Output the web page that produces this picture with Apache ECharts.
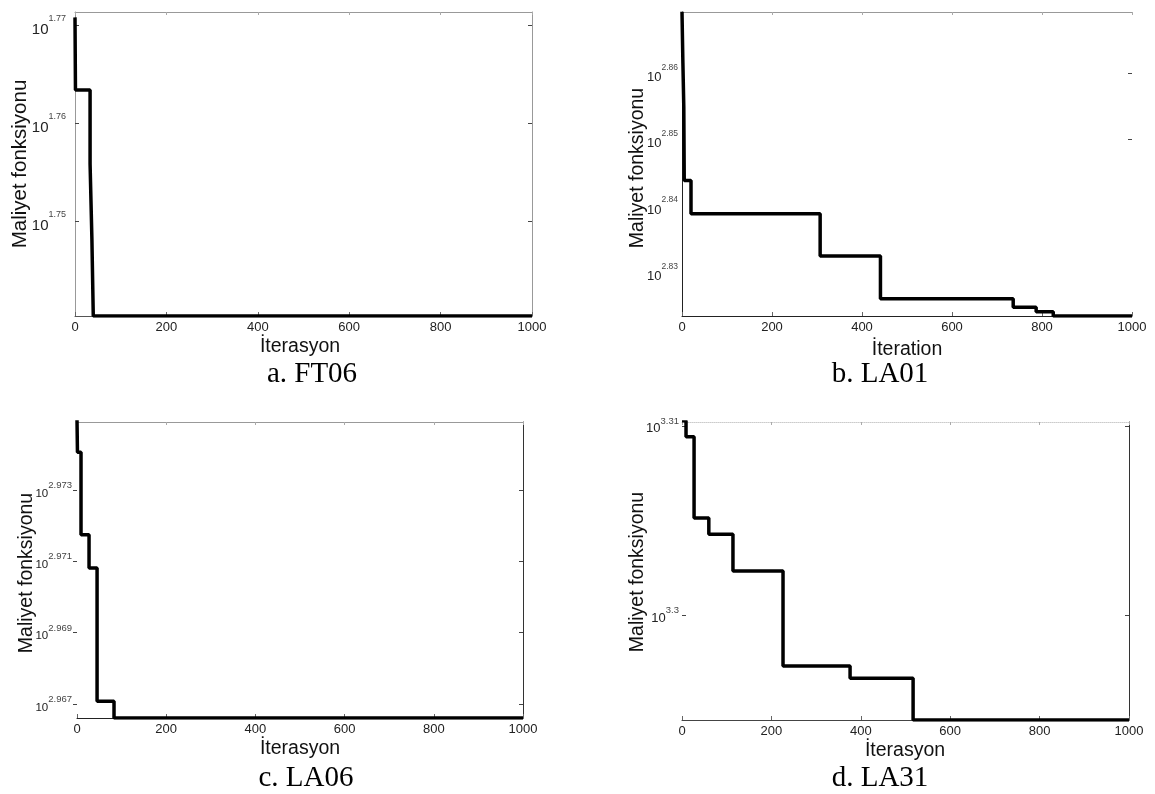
<!DOCTYPE html>
<html>
<head>
<meta charset="utf-8">
<script src="https://cdn.jsdelivr.net/npm/echarts@6/dist/echarts.min.js"></script>
<style>
  html, body { margin: 0; padding: 0; background: #fff; }
  #chart { width: 1155px; height: 794px; }
</style>
</head>
<body>
<div id="chart"></div>
<script>
// best cost per iteration (step changes only)
const iterFT06 = [0, 1, 33, 37, 40, 1000]
const costFT06 = [59, 58, 57, 56, 55, 55]
const yTicksFT06 = [1.75, 1.76, 1.77]

const iterLA01 = [0, 2, 4, 5, 20, 307, 441, 736, 787, 825, 1000]
const costLA01 = [740, 727, 716, 698, 690, 680, 670, 668, 667, 666, 666]
const yTicksLA01 = [2.83, 2.84, 2.85, 2.86]

const iterLA06 = [0, 1, 9, 27, 45, 83, 1000]
const costLA06 = [944, 942, 937, 935, 927, 926, 926]
const yTicksLA06 = [2.967, 2.969, 2.971, 2.973]

const iterLA31 = [0, 9, 27, 60, 114, 226, 376, 517, 1000]
const costLA31 = [2043, 2039, 2019, 2015, 2006, 1983, 1980, 1970, 1970]
const yTicksLA31 = [3.3, 3.31]

const xTicks = [0, 200, 400, 600, 800, 1000]

const FONT = 'Liberation Sans, Arial, sans-serif'
const SERIF = 'Liberation Serif, Times New Roman, serif'

const panels = [
  {
    iter: iterFT06, cost: costFT06, ticks: yTicksFT06,
    box: { left: 75, top: 12, width: 457, height: 304 },
    yMin: Math.log10(55), yMax: 1.7714,
    xName: 'İterasyon', caption: 'a. FT06',
    leftLine: '#999', leftTick: 'in', rightLine: '#999', bottomLine: '#555', topLine: 'solid',
    lab: [15, 9, 24], labMargin: 9, titleSize: 20.5,
    yTitle: [20, 164], xTitle: [300, 347], cap: [312, 374],
  },
  {
    iter: iterLA01, cost: costLA01, ticks: yTicksLA01,
    box: { left: 682, top: 12, width: 450, height: 304 },
    yMin: Math.log10(666), yMax: 2.8692,
    xName: 'İteration', caption: 'b. LA01',
    leftLine: '#222', leftTick: null, rightLine: null, rightTicks: [2.85, 2.86], bottomLine: '#222', topLine: 'solid',
    lab: [13, 8.5, 21], labMargin: 4, titleSize: 19.5,
    yTitle: [638, 168], xTitle: [907, 350], cap: [880, 374],
  },
  {
    iter: iterLA06, cost: costLA06, ticks: yTicksLA06,
    box: { left: 77, top: 422, width: 446, height: 296 },
    yMin: Math.log10(926), yMax: 2.9749,
    xName: 'İterasyon', caption: 'c. LA06',
    leftLine: null, leftTick: 'out', rightLine: '#333', bottomLine: '#222', topLine: 'solid',
    lab: [11.5, 9.5, 19], labMargin: 5, titleSize: 19.5,
    yTitle: [27, 573], xTitle: [300, 749], cap: [306, 778],
  },
  {
    iter: iterLA31, cost: costLA31, ticks: yTicksLA31,
    box: { left: 682, top: 422, width: 447, height: 298 },
    yMin: Math.log10(1970), yMax: 3.3102,
    xName: 'İterasyon', caption: 'd. LA31',
    leftLine: null, leftTick: 'in', rightLine: '#333', bottomLine: '#444', topLine: 'dotted',
    lab: [13, 9.5, 19], labMargin: 3, titleSize: 19.5,
    yTitle: [638, 572], xTitle: [905, 751], cap: [880, 778],
  },
]

function supLabel(v) {
  return '{b|10}{s|' + parseFloat(v.toFixed(3)) + '}'
}

const grid = []
const xAxis = []
const yAxis = []
const series = []
const graphic = []

panels.forEach((p, i) => {
  grid.push(Object.assign({ show: false }, p.box))

  xAxis.push({
    type: 'value', gridIndex: i, position: 'bottom',
    min: 0, max: 1000, interval: 200,
    axisLine: { show: true, onZero: false, lineStyle: { color: p.bottomLine, width: 1 } },
    axisTick: { show: true, inside: true, length: 4, lineStyle: { color: '#666' } },
    axisLabel: {
      fontFamily: FONT, fontSize: 13, color: '#222', margin: 5,
      customValues: xTicks,
      formatter: (v) => String(v),
    },
    splitLine: { show: false },
  })
  xAxis.push({
    type: 'value', gridIndex: i, position: 'top',
    min: 0, max: 1000, interval: 200,
    axisLine: {
      show: true, onZero: false,
      lineStyle: { color: p.topLine === 'dotted' ? '#ccc' : '#999', width: 1, type: p.topLine },
    },
    axisTick: { show: true, inside: true, length: 3, lineStyle: { color: '#aaa' } },
    axisLabel: { show: false },
    splitLine: { show: false },
  })

  yAxis.push({
    type: 'value', gridIndex: i, position: 'left',
    min: p.yMin, max: p.yMax,
    axisLine: { show: !!p.leftLine, onZero: false, lineStyle: { color: p.leftLine || '#000', width: 1 } },
    axisTick: {
      show: !!p.leftTick, inside: p.leftTick === 'in', length: 4,
      lineStyle: { color: '#444' }, customValues: p.ticks,
    },
    axisLabel: {
      margin: p.labMargin,
      customValues: p.ticks,
      formatter: supLabel,
      rich: {
        b: { fontFamily: FONT, fontSize: p.lab[0], color: '#222', lineHeight: p.lab[2], verticalAlign: 'bottom' },
        s: { fontFamily: FONT, fontSize: p.lab[1], color: '#444', lineHeight: 10, verticalAlign: 'top' },
      },
    },
    splitLine: { show: false },
  })
  yAxis.push({
    type: 'value', gridIndex: i, position: 'right',
    min: p.yMin, max: p.yMax,
    axisLine: { show: !!p.rightLine, onZero: false, lineStyle: { color: p.rightLine || '#000', width: 1 } },
    axisTick: {
      show: true, inside: true, length: 4,
      lineStyle: { color: '#444' }, customValues: p.rightTicks || p.ticks,
    },
    axisLabel: { show: false },
    splitLine: { show: false },
  })

  series.push({
    type: 'line',
    xAxisIndex: 2 * i, yAxisIndex: 2 * i,
    step: 'end',
    showSymbol: false,
    clip: true,
    lineStyle: { color: '#000', width: 3.5 },
    data: p.iter.map((x, k) => [x, Math.log10(p.cost[k])]),
  })

  graphic.push({
    type: 'text', x: p.yTitle[0], y: p.yTitle[1], rotation: Math.PI / 2,
    style: {
      text: 'Maliyet fonksiyonu', fontFamily: FONT, fontSize: p.titleSize, fill: '#111',
      align: 'center', verticalAlign: 'middle',
    },
  })
  graphic.push({
    type: 'text', x: p.xTitle[0], y: p.xTitle[1],
    style: {
      text: p.xName, fontFamily: FONT, fontSize: 19.5, fill: '#111',
      align: 'center', verticalAlign: 'middle',
    },
  })
  graphic.push({
    type: 'text', x: p.cap[0], y: p.cap[1],
    style: {
      text: p.caption, fontFamily: SERIF, fontSize: 29, fill: '#000',
      align: 'center', verticalAlign: 'middle',
    },
  })
})

const chart = echarts.init(document.getElementById('chart'), null, { renderer: 'canvas' })
chart.setOption({
  animation: false,
  backgroundColor: '#fff',
  grid, xAxis, yAxis, series, graphic,
})
</script>
</body>
</html>
